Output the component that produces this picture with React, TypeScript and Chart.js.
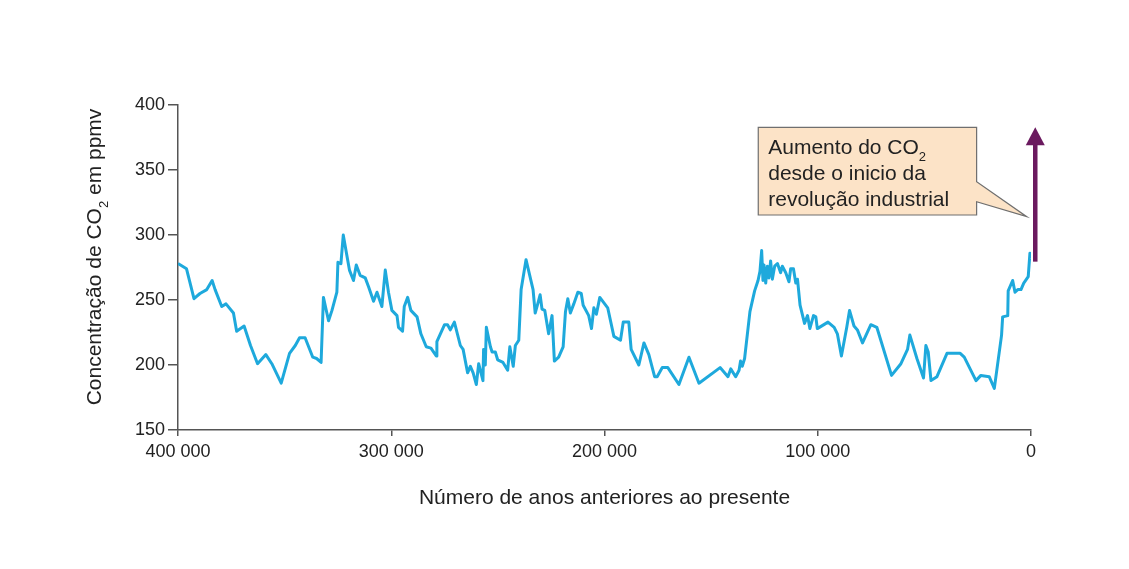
import React, { useEffect, useRef } from "react";
import { Chart, registerables } from "chart.js";

Chart.register(...registerables);

// Years before present (thousands) and CO2 concentration (ppmv)
const yearsKyr = [
  400, 396, 392.5, 389.7, 386.5, 384, 382.6, 379.5, 377.5, 374, 372.5, 369, 366, 362.7, 358.8, 356, 351.6,
  347.7, 345, 343, 340.4, 336.8, 335, 332.9, 331.8, 329.4, 327.8, 325.5, 325, 323.6, 322.5, 321.1, 319.6,
  317.7, 316.4, 314.6, 312.2, 310.6, 308.3, 306.7, 304.4, 302.8, 301.3, 299.7, 297.3, 296.6, 294.7, 293.9,
  292.3, 290.8, 287.9, 286.1, 283.6, 281.4, 278.9, 278.6, 275, 273.6, 272.3, 270.4, 267.6, 266.3, 264.2,
  262.9, 261.6, 260.1, 259, 257, 256.7, 255.9, 255.4, 253.5, 252.7, 251.2, 250.1, 247.6, 245.4, 244.4,
  242.8, 241.8, 240.2, 239.1, 236.8, 233.5, 232.5, 231.3, 230.2, 229.3, 228, 226.2, 224.6, 223.5, 221.5,
  219.4, 218.3, 217.2, 216, 214.4, 212.5, 210.9, 210, 207.4, 206.1, 205, 203.8, 202.2, 198.5, 195.6, 192.5,
  191.2, 188.6, 187.5, 183.9, 181.5, 179.2, 176.5, 175.3, 172.9, 170.3, 165.1, 160.4, 155.7, 145.8, 142.1,
  140.8, 138.5, 136.9, 136.2, 135.4, 134.3, 131.8, 129.6, 128, 127.1, 126.3, 125.7, 125.2, 124.4, 123.6,
  122.9, 122.1, 121.3, 120.2, 118.9, 117.4, 116.6, 115, 113.5, 112.7, 111.4, 110.3, 109.5, 108.3, 106.2,
  104.8, 103.7, 102, 100.9, 100.2, 95.2, 92.3, 90.8, 88.9, 86.4, 85.1, 83, 81.4, 79, 75.1, 72.3, 65.4, 61,
  57.9, 56.8, 53.5, 50.4, 49.3, 48.2, 46.9, 44.1, 39.4, 33.2, 31.3, 25.8, 23.5, 19.6, 17.2, 13.8, 13.3,
  10.9, 10.7, 8.6, 7.5, 6.2, 4.7, 3.4, 1.3, 0.5, 0,
];
const co2 = [
  278, 274, 251, 255, 258, 265, 258, 245, 247, 240, 226, 230, 215, 201, 208, 201, 186,
  209, 215, 221, 221, 206, 205, 202, 252, 234, 242, 256, 279, 278, 300, 287, 273,
  265, 277, 269, 267, 260, 249, 256, 245, 273, 256, 242, 238, 229, 226, 245,
  252, 242, 237, 224, 214, 213, 207, 218, 231, 231, 227, 233, 215, 212, 194,
  199, 194, 185, 201, 188, 212, 200, 229, 214, 210, 210, 204, 202, 196, 214,
  199, 215, 219, 258, 281, 258, 240, 247, 254, 243, 242, 224, 238, 203, 206,
  214, 241, 251, 240, 247, 256, 255, 246, 238, 228, 244, 239, 252, 244, 222, 219,
  233, 233, 212, 200, 217, 208, 191, 191, 198, 198, 185, 206, 186, 198, 191,
  197, 191, 196, 203, 199, 205, 241, 257, 265, 272, 288, 265, 277, 263, 276,
  267, 280, 266, 276, 278, 271, 276, 271, 264, 274, 274, 263, 266, 246, 232,
  238, 228, 238, 237, 228, 233, 229, 224, 207, 229, 242, 230, 227, 217, 231, 229, 192, 201,
  212, 223, 205, 190, 215, 210, 188, 191, 209, 209, 206, 188, 192, 191, 182, 223, 237,
  238, 257, 265, 256, 258, 258, 263, 268, 286, 282,
];

const xTickValues = [400000, 300000, 200000, 100000, 0];
const yTickValues = [150, 200, 250, 300, 350, 400];

const xTitle = "Número de anos anteriores ao presente";
const yTitleParts = ["Concentração de CO", "2", " em ppmv"];
const noteLines = [["Aumento do CO", "2"], ["desde o inicio da"], ["revolução industrial"]];

// Annotation geometry in data units (years, ppmv)
const noteBox = { x1: 127900, x2: 25500, yTop: 382.8, yBottom: 315.4 };
const noteTail = { yA: 341, yB: 325.6, tipX: 2000, tipY: 314.1 };
const arrowSpec = { x: -2000, from: 279.5, to: 382.8 };

const FONT = "'Liberation Sans', Arial, Helvetica, sans-serif";
const LINE = "#1ea9dc";
const AXIS = "#555555";
const TEXT = "#222222";
const ARROW = "#6b1a5f";

function drawRich(ctx: CanvasRenderingContext2D, parts: string[], x: number, y: number, size: number, subSize: number, subDrop: number, align: "left" | "center") {
  const widths = parts.map((p, i) => {
    ctx.font = `${i % 2 === 1 ? subSize : size}px ${FONT}`;
    return ctx.measureText(p).width;
  });
  const total = widths.reduce((a, b) => a + b, 0);
  let cx = align === "center" ? x - total / 2 : x;
  parts.forEach((p, i) => {
    const sub = i % 2 === 1;
    ctx.font = `${sub ? subSize : size}px ${FONT}`;
    ctx.fillText(p, cx, sub ? y + subDrop : y);
    cx += widths[i];
  });
}

const overlay = {
  id: "overlay",
  afterDatasetsDraw(chart: any) {
    const ctx: CanvasRenderingContext2D = chart.ctx;
    const xs = chart.scales.x;
    const ys = chart.scales.y;
    const area = chart.chartArea;
    ctx.save();

    // Arrow
    const ax = xs.getPixelForValue(arrowSpec.x);
    const ay0 = ys.getPixelForValue(arrowSpec.from);
    const ay1 = ys.getPixelForValue(arrowSpec.to);
    ctx.strokeStyle = ARROW;
    ctx.fillStyle = ARROW;
    ctx.lineWidth = 4.5;
    ctx.beginPath();
    ctx.moveTo(ax, ay0);
    ctx.lineTo(ax, ay1 + 16);
    ctx.stroke();
    ctx.beginPath();
    ctx.moveTo(ax, ay1);
    ctx.lineTo(ax - 9.5, ay1 + 18);
    ctx.lineTo(ax + 9.5, ay1 + 18);
    ctx.closePath();
    ctx.fill();

    // Callout box
    const bx1 = xs.getPixelForValue(noteBox.x1);
    const bx2 = xs.getPixelForValue(noteBox.x2);
    const by1 = ys.getPixelForValue(noteBox.yTop);
    const by2 = ys.getPixelForValue(noteBox.yBottom);
    const tA = ys.getPixelForValue(noteTail.yA);
    const tB = ys.getPixelForValue(noteTail.yB);
    const tx = xs.getPixelForValue(noteTail.tipX);
    const ty = ys.getPixelForValue(noteTail.tipY);
    ctx.beginPath();
    ctx.moveTo(bx1, by1);
    ctx.lineTo(bx2, by1);
    ctx.lineTo(bx2, tA);
    ctx.lineTo(tx, ty);
    ctx.lineTo(bx2, tB);
    ctx.lineTo(bx2, by2);
    ctx.lineTo(bx1, by2);
    ctx.closePath();
    ctx.fillStyle = "#fce3c7";
    ctx.fill();
    ctx.strokeStyle = "#6f6f6f";
    ctx.lineWidth = 1.2;
    ctx.stroke();

    ctx.fillStyle = TEXT;
    ctx.textBaseline = "alphabetic";
    ctx.textAlign = "left";
    noteLines.forEach((parts, i) => {
      drawRich(ctx, parts, bx1 + 10, by1 + 27 + i * 26, 21, 13, 7, "left");
    });

    // Axis titles
    ctx.fillStyle = TEXT;
    ctx.textBaseline = "alphabetic";
    drawRich(ctx, [xTitle], (area.left + area.right) / 2, area.bottom + 74, 21, 13, 7, "center");

    ctx.save();
    ctx.translate(101, 257);
    ctx.rotate(-Math.PI / 2);
    drawRich(ctx, yTitleParts, 0, 0, 21, 13, 7, "center");
    ctx.restore();

    ctx.restore();
  },
};

export default function App() {
  const ref = useRef<HTMLCanvasElement | null>(null);

  useEffect(() => {
    document.body.style.margin = "0";
    const canvas = ref.current;
    if (!canvas) return;
    const points = yearsKyr.map((k, i) => ({ x: k * 1000, y: co2[i] }));
    const chart = new Chart(canvas, {
      type: "line",
      data: {
        datasets: [
          {
            data: points,
            borderColor: LINE,
            borderWidth: 3,
            pointRadius: 0,
            tension: 0,
            fill: false,
            borderJoinStyle: "round",
          },
        ],
      },
      options: {
        responsive: false,
        animation: false,
        layout: { padding: { top: 105, right: 98, left: 0, bottom: 0 } },
        plugins: { legend: { display: false }, tooltip: { enabled: false } },
        scales: {
          x: {
            type: "linear",
            reverse: true,
            min: 0,
            max: 400000,
            afterBuildTicks: (s: any) => {
              s.ticks = xTickValues.map((v) => ({ value: v }));
            },
            afterFit: (s: any) => {
              s.height = 139;
            },
            grid: { drawOnChartArea: false, drawTicks: true, tickLength: 6, color: AXIS, lineWidth: 1.5 },
            border: { color: AXIS, width: 1.5 },
            ticks: {
              autoSkip: false,
              maxRotation: 0,
              padding: 5,
              color: TEXT,
              font: { size: 18, family: FONT },
              callback: (v: any) => (Number(v) === 0 ? "0" : `${Number(v) / 1000} 000`),
            },
          },
          y: {
            type: "linear",
            min: 150,
            max: 400,
            afterBuildTicks: (s: any) => {
              s.ticks = yTickValues.map((v) => ({ value: v }));
            },
            afterFit: (s: any) => {
              s.width = 178;
            },
            grid: { drawOnChartArea: false, drawTicks: true, tickLength: 10, color: AXIS, lineWidth: 1.5 },
            border: { color: AXIS, width: 1.5 },
            ticks: {
              autoSkip: false,
              padding: 3,
              color: TEXT,
              font: { size: 18, family: FONT },
            },
          },
        },
      },
      plugins: [overlay],
    } as any);
    return () => chart.destroy();
  }, []);

  return (
    <div style={{ width: 1129, height: 569, background: "#fff" }}>
      <canvas ref={ref} width={1129} height={569} style={{ display: "block" }} />
    </div>
  );
}
